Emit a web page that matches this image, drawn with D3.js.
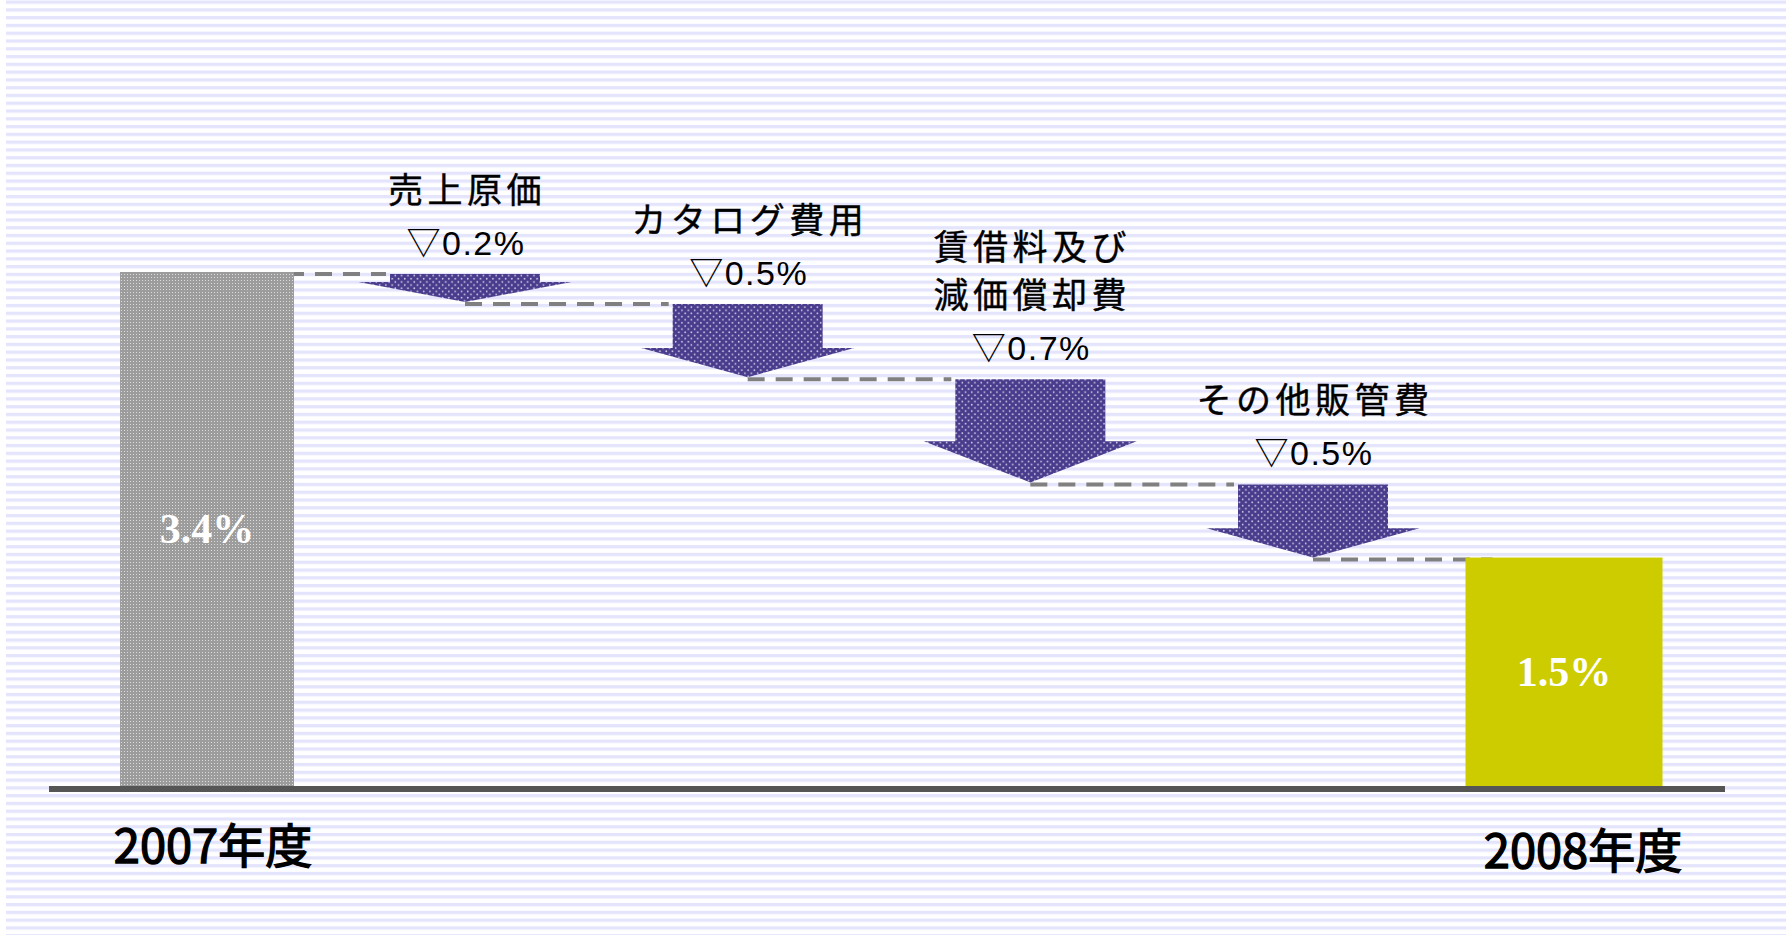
<!DOCTYPE html>
<html>
<head>
<meta charset="utf-8">
<script src="https://cdn.jsdelivr.net/npm/d3@7"></script>
<style>
  html, body { margin: 0; padding: 0; background: #ffffff; }
  svg { display: block; }
</style>
</head>
<body>
<svg id="chart" width="1786" height="937"></svg>
<script>
// ---------------- data ----------------
const categories = ["2007年度", "売上原価", "カタログ費用", "賃借料及び\n減価償却費", "その他販管費", "2008年度"];
const values     = [3.4, -0.2, -0.5, -0.7, -0.5, 1.5];
const kinds      = ["total", "delta", "delta", "delta", "delta", "total"];
const barLabels  = ["3.4%", "▽0.2%", "▽0.5%", "▽0.7%", "▽0.5%", "1.5%"];

// ---------------- layout ----------------
const W = 1786, H = 937;
const svg = d3.select("#chart");

const totalCats = categories.filter((c, i) => kinds[i] === "total");
const deltaCats = categories.filter((c, i) => kinds[i] === "delta");
const xTotal = d3.scalePoint().domain(totalCats).range([207, 1564]);
const xDelta = d3.scalePoint().domain(deltaCats).range([465, 1313]);
const x = c => (xTotal(c) !== undefined ? xTotal(c) : xDelta(c));

const y = d3.scaleLinear().domain([0, 3.4]).range([783, 272]);
const axisY = 789;            // centre of the base line
const barBottom = axisY - 3;

const totalWidth = [174, 197];
const bodyW = 150, wingW = 213;
const sansFont = "'Liberation Sans', Arial, 'Noto Sans CJK JP', sans-serif";

// cumulative levels
const steps = [];
let level = 0;
values.forEach((v, i) => {
  if (kinds[i] === "total") {
    steps.push({ i, cat: categories[i], v, from: v, to: v, kind: "total", label: barLabels[i] });
    level = v;
  } else {
    const from = level, to = level + v;
    steps.push({ i, cat: categories[i], v, from, to, kind: "delta", label: barLabels[i] });
    level = to;
  }
});

// ---------------- defs ----------------
const defs = svg.append("defs");

const stripe = defs.append("pattern").attr("id", "stripes")
  .attr("patternUnits", "userSpaceOnUse").attr("width", 20).attr("height", 7.78)
  .attr("y", 0.5);
stripe.append("rect").attr("width", 20).attr("height", 7.78).attr("fill", "#ffffff");
stripe.append("rect").attr("width", 20).attr("height", 3.3).attr("fill", "#e4e4fd");

const dots = defs.append("pattern").attr("id", "dots")
  .attr("patternUnits", "userSpaceOnUse").attr("width", 6.3).attr("height", 6.3);
dots.append("rect").attr("width", 6.3).attr("height", 6.3).attr("fill", "#4a3c8c");
dots.append("circle").attr("cx", 1.6).attr("cy", 1.6).attr("r", 0.85).attr("fill", "#d6d2ee");
dots.append("circle").attr("cx", 4.75).attr("cy", 4.75).attr("r", 0.85).attr("fill", "#d6d2ee");

const grain = defs.append("pattern").attr("id", "grain")
  .attr("patternUnits", "userSpaceOnUse").attr("width", 3).attr("height", 3);
grain.append("rect").attr("width", 3).attr("height", 3).attr("fill", "#9c9c9c");
grain.append("rect").attr("x", 1).attr("y", 1).attr("width", 1).attr("height", 1).attr("fill", "#dcdcdc");

// ---------------- background ----------------
svg.append("rect").attr("width", W).attr("height", H).attr("fill", "#ffffff");
svg.append("rect").attr("x", 6).attr("y", 0).attr("width", W - 6).attr("height", H - 2)
  .attr("fill", "url(#stripes)");

// ---------------- connectors ----------------
const conn = [];
for (let k = 0; k < steps.length - 1; k++) {
  const a = steps[k], b = steps[k + 1];
  const lv = a.to;
  const x1 = a.kind === "total" ? x(a.cat) + totalWidth[0] / 2 - 7 : x(a.cat);
  const x2 = b.kind === "total" ? x(b.cat) - totalWidth[1] / 2 + 27 : x(b.cat) - bodyW / 2 - 4;
  conn.push({ x1, x2, y: y(lv) + 2 });
}
svg.append("g").selectAll("line").data(conn).join("line")
  .attr("x1", d => d.x1).attr("x2", d => d.x2)
  .attr("y1", d => d.y).attr("y2", d => d.y)
  .attr("stroke", "#808080").attr("stroke-width", 4)
  .attr("stroke-dasharray", "17 11");

// ---------------- total bars ----------------
const totals = steps.filter(d => d.kind === "total");
svg.append("g").selectAll("rect").data(totals).join("rect")
  .attr("x", (d, j) => x(d.cat) - totalWidth[j] / 2)
  .attr("width", (d, j) => totalWidth[j])
  .attr("y", d => y(d.v))
  .attr("height", d => barBottom - y(d.v))
  .attr("fill", (d, j) => j === 0 ? "url(#grain)" : "#cccc00");

svg.append("g").selectAll("text").data(totals).join("text")
  .attr("x", d => x(d.cat))
  .attr("y", d => (y(d.v) + barBottom) / 2 + 14)
  .attr("text-anchor", "middle")
  .attr("font-family", "'Liberation Serif', 'Times New Roman', serif")
  .attr("font-weight", "bold")
  .attr("font-size", 42)
  .attr("fill", "#ffffff")
  .text(d => d.label);

// ---------------- arrows ----------------
const deltas = steps.filter(d => d.kind === "delta");
function arrowPath(d) {
  const cx = x(d.cat);
  const y0 = y(d.from) + 2, y1 = y(d.to);
  const h = y1 - y0;
  const head = Math.max(20, 0.4 * h);
  const yw = y1 - head;
  const p = d3.path();
  p.moveTo(cx - bodyW / 2, y0);
  p.lineTo(cx + bodyW / 2, y0);
  p.lineTo(cx + bodyW / 2, yw);
  p.lineTo(cx + wingW / 2, yw);
  p.lineTo(cx, y1);
  p.lineTo(cx - wingW / 2, yw);
  p.lineTo(cx - bodyW / 2, yw);
  p.closePath();
  return p.toString();
}
svg.append("g").selectAll("path").data(deltas).join("path")
  .attr("d", arrowPath)
  .attr("fill", "url(#dots)");

// value labels above arrows
svg.append("g").selectAll("text").data(deltas).join("text")
  .attr("x", d => x(d.cat) + 1)
  .attr("y", d => y(d.from) - 17)
  .attr("text-anchor", "middle")
  .attr("font-family", sansFont)
  .attr("font-size", 34)
  .attr("letter-spacing", 1.5)
  .attr("fill", "#000000")
  .text(d => d.label);

// category names above arrows
const nameG = svg.append("g");
deltas.forEach(d => {
  const lines = d.cat.split("\n");
  const base = y(d.from) - 17 - 52;
  lines.forEach((ln, li) => {
    nameG.append("text")
      .attr("x", x(d.cat) + 2)
      .attr("y", base - (lines.length - 1 - li) * 48)
      .attr("text-anchor", "middle")
      .attr("font-family", sansFont)
      .attr("font-size", 35)
      .attr("letter-spacing", 4.5)
      .attr("fill", "#000000")
      .attr("stroke", "#000000")
      .attr("stroke-width", 0.4)
      .text(ln);
  });
});

// ---------------- base axis ----------------
svg.append("line")
  .attr("x1", 49).attr("x2", 1725)
  .attr("y1", axisY).attr("y2", axisY)
  .attr("stroke", "#555555").attr("stroke-width", 6);

// year labels under axis
svg.append("g").selectAll("text").data(totals).join("text")
  .attr("x", (d, j) => x(d.cat) + (j === 0 ? 6 : 19))
  .attr("y", (d, j) => j === 0 ? 863 : 868)
  .attr("text-anchor", "middle")
  .attr("font-family", "'Noto Sans CJK JP', sans-serif")
  .attr("font-weight", "normal")
  .attr("font-size", 47)
  .attr("fill", "#000000")
  .attr("stroke", "#000000")
  .attr("stroke-width", 1.4)
  .text(d => d.cat);
</script>
</body>
</html>
